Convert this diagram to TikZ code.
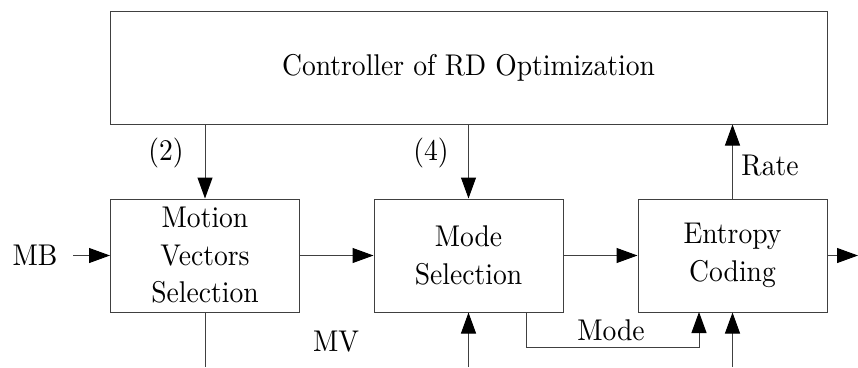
\documentclass[tikz,border=0pt]{standalone}
\usepackage{fontspec}
\setmainfont{lmroman10-regular}[Extension=.otf, FakeStretch=0.92]
\usetikzlibrary{arrows.meta}
\begin{document}
\begin{tikzpicture}[x=1pt,y=-1pt,
  line width=1pt,
  every node/.style={font=\rmfamily\fontsize{30}{37.5}\selectfont},
  block/.style={draw=black!75, fill=white, inner sep=0pt, minimum height=113pt,
                minimum width=189pt, align=center},
  conn/.style={draw=black!75, -{Triangle[length=21pt,width=15pt,color=black]}},
  wire/.style={draw=black!75},
  lbl/.style={inner sep=0pt}]
\useasboundingbox (0,0) rectangle (858,367);

% processing blocks
\node[block, minimum width=717pt] (ctrl) at (468.5,67.5) {Controller of RD Optimization};
\node[block] (mvs)  at (205,255.5)   {Motion\\Vectors\\Selection};
\node[block] (mode) at (468.5,255.5) {Mode\\Selection};
\node[block] (ent)  at (732.5,255.5) {Entropy\\Coding};

% free ends of the input/output lines
\coordinate (mbin)   at (73,255.5);
\coordinate (out)    at (858,255.5);
\coordinate (mvout)  at (205,367);
\coordinate (modein) at (468.5,367);
\coordinate (entin)  at (732.5,367);
\coordinate (mdA)    at (526,312);
\coordinate (mdB)    at (526,347);
\coordinate (mdC)    at (699,347);
\coordinate (mdD)    at (699,312);

% labels
\node[lbl] (mb)   at (35,255)  {MB};
\node[lbl] (l2)   at (166,153) {(2)};
\node[lbl] (l4)   at (431,153) {(4)};
\node[lbl] (rate) at (770,166) {Rate};
\node[lbl] (mv)   at (336,342) {MV};
\node[lbl] (md)   at (611,330) {Mode};

% connectors
\draw[conn] (mbin) -- (mvs.west);
\draw[conn] (mvs.east) -- (mode.west);
\draw[conn] (mode.east) -- (ent.west);
\draw[conn] (ent.east) -- (out);
\draw[conn] (ctrl.south -| mvs.north) -- (mvs.north);
\draw[conn] (ctrl.south -| mode.north) -- (mode.north);
\draw[conn] (ent.north) -- (ent.north |- ctrl.south);
\draw[wire] (mvs.south) -- (mvout);
\draw[conn] (modein) -- (mode.south);
\draw[conn] (entin) -- (ent.south);
\draw[conn] (mdA) -- (mdB) -- (mdC) -- (mdD);
\end{tikzpicture}
\end{document}
